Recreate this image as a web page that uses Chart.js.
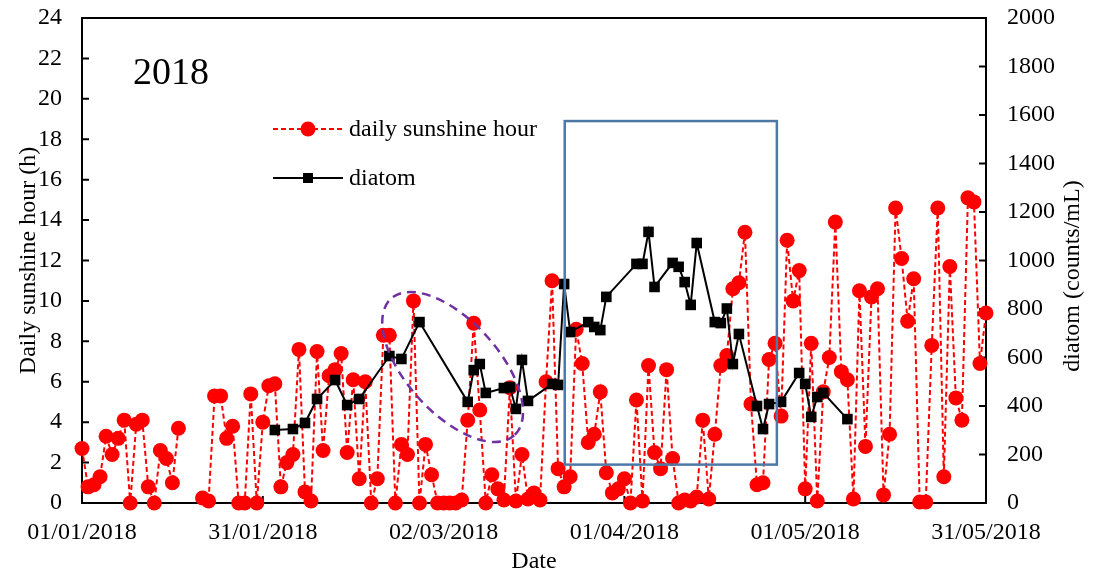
<!DOCTYPE html>
<html>
<head>
<meta charset="utf-8">
<title>Sunshine and diatom 2018</title>
<script src="https://cdn.jsdelivr.net/npm/chart.js@4.4.1/dist/chart.umd.min.js"></script>
<style>
  html, body { margin: 0; padding: 0; background: #fff; }
  #wrap { width: 1096px; height: 576px; position: relative; }
</style>
</head>
<body>
<div id="wrap"><canvas id="chart"></canvas></div>
<script>
const START = Date.UTC(2018, 0, 1);
const DAY_MS = 86400000;
const SERIF = '"Liberation Serif", "Times New Roman", serif';

// daily sunshine hours, one value per day starting 01/01/2018 (null = not recorded)
const sunshineHours = [
  2.7, 0.8, 0.9, 1.3, 3.3, 2.4, 3.2, 4.1, 0, 3.9,
  4.1, 0.8, 0, 2.6, 2.2, 1.0, 3.7, null, null, null,
  0.25, 0.1, 5.3, 5.3, 3.2, 3.8, 0, 0, 5.4, 0,
  4.0, 5.8, 5.9, 0.8, 2.0, 2.4, 7.6, 0.55, 0.1, 7.5,
  2.6, 6.3, 6.6, 7.4, 2.5, 6.1, 1.2, 6.0, 0, 1.2,
  8.3, 8.3, 0, 2.9, 2.4, 10.0, 0, 2.9, 1.4, 0,
  0, 0, 0, 0.15, 4.1, 8.9, 4.6, 0, 1.4, 0.7,
  0.15, 5.7, 0.1, 2.4, 0.2, 0.5, 0.15, 6.0, 11.0, 1.7,
  0.8, 1.3, 8.6, 6.9, 3.0, 3.4, 5.5, 1.5, 0.5, 0.7,
  1.2, 0, 5.1, 0.1, 6.8, 2.5, 1.7, 6.6, 2.2, 0,
  0.15, 0.1, 0.3, 4.1, 0.2, 3.4, 6.8, 7.3, 10.6, 10.9,
  13.4, 4.9, 0.9, 1.0, 7.1, 7.9, 4.3, 13.0, 10.0, 11.5,
  0.7, 7.9, 0.1, 5.5, 7.2, 13.9, 6.5, 6.1, 0.2, 10.5,
  2.8, 10.2, 10.6, 0.4, 3.4, 14.6, 12.1, 9.0, 11.1, 0.05,
  0.05, 7.8, 14.6, 1.3, 11.7, 5.2, 4.1, 15.1, 14.9, 6.9,
  9.4
];

// diatom samples: day offset from 01/01/2018 and count (counts/mL)
const diatomDays = [
  32, 35, 37, 39, 42, 44, 46, 51, 53, 56,
  64, 65, 66, 67, 70, 71, 72, 73, 74, 78,
  79, 80, 81, 84, 85, 86, 87, 92, 93, 94,
  95, 98, 99, 100, 101, 102, 105, 106, 107, 108,
  109, 112, 113, 114, 116, 119, 120, 121, 122, 123,
  127
];
const diatomCounts = [
  301, 305, 330, 429, 507, 404, 429, 606, 594, 746,
  417, 548, 573, 454, 474, 478, 388, 590, 421, 491,
  487, 903, 705, 746, 726, 713, 850, 986, 986, 1118,
  891, 990, 974, 911, 817, 1072, 746, 742, 802, 573,
  697, 400, 305, 408, 417, 536, 491, 355, 437, 454,
  346
];

// highlighted periods (day offset / sunshine hours)
const boxDays = [80.1, 115.3];
const boxHours = [1.9, 18.9];
const ellipseCentre = [61.5, 6.73];

function fmtDate(days) {
  const d = new Date(START + days * DAY_MS);
  const p = n => String(n).padStart(2, '0');
  return p(d.getUTCDate()) + '/' + p(d.getUTCMonth() + 1) + '/' + d.getUTCFullYear();
}

const font = { family: SERIF, size: 24 };

// vertical axes: fixed width, no extra room for the end labels
const fixWidth = w => s => { s.width = w; s.paddingTop = 0; s.paddingBottom = 0; };

// frame with inward tick marks, drawn under the data
const framePlugin = {
  id: 'frame',
  beforeDatasetsDraw(chart) {
    const { ctx, chartArea: a, scales } = chart;
    const len = 7;
    ctx.save();
    ctx.strokeStyle = '#000';
    ctx.lineWidth = 2;
    ctx.strokeRect(a.left, a.top, a.right - a.left, a.bottom - a.top);
    ctx.beginPath();
    scales.x.ticks.forEach(t => {
      const px = scales.x.getPixelForValue(t.value);
      ctx.moveTo(px, a.bottom); ctx.lineTo(px, a.bottom - len);
    });
    scales.y.ticks.forEach(t => {
      const py = scales.y.getPixelForValue(t.value);
      ctx.moveTo(a.left, py); ctx.lineTo(a.left + len, py);
    });
    scales.y1.ticks.forEach(t => {
      const py = scales.y1.getPixelForValue(t.value);
      ctx.moveTo(a.right, py); ctx.lineTo(a.right - len, py);
    });
    ctx.stroke();
    ctx.restore();
  },
  afterDatasetsDraw(chart) {
    const { ctx, scales } = chart;
    const x = scales.x, y = scales.y;
    ctx.save();
    // blue box round the spring peak
    const bx0 = x.getPixelForValue(boxDays[0]), bx1 = x.getPixelForValue(boxDays[1]);
    const by0 = y.getPixelForValue(boxHours[1]), by1 = y.getPixelForValue(boxHours[0]);
    ctx.strokeStyle = '#4e79a7';
    ctx.lineWidth = 2.5;
    ctx.strokeRect(bx0, by0, bx1 - bx0, by1 - by0);
    // dashed purple ellipse
    ctx.strokeStyle = '#7030a0';
    ctx.setLineDash([9, 6]);
    ctx.beginPath();
    ctx.ellipse(x.getPixelForValue(ellipseCentre[0]), y.getPixelForValue(ellipseCentre[1]),
      92, 46, 48 * Math.PI / 180, 0, 2 * Math.PI);
    ctx.stroke();
    ctx.restore();
  },
  afterDraw(chart) {
    const { ctx } = chart;
    ctx.save();
    ctx.fillStyle = '#000';
    ctx.font = '38px ' + SERIF;
    ctx.textBaseline = 'middle';
    ctx.fillText('2018', 133, 74);

    // legend
    ctx.font = '24px ' + SERIF;
    ctx.strokeStyle = '#ff0000';
    ctx.lineWidth = 2;
    ctx.setLineDash([5, 3]);
    ctx.beginPath(); ctx.moveTo(273, 129); ctx.lineTo(343, 129); ctx.stroke();
    ctx.setLineDash([]);
    ctx.fillStyle = '#ff0000';
    ctx.beginPath(); ctx.arc(308, 129, 7.5, 0, 2 * Math.PI); ctx.fill();
    ctx.strokeStyle = '#000';
    ctx.beginPath(); ctx.moveTo(273, 178); ctx.lineTo(343, 178); ctx.stroke();
    ctx.fillStyle = '#000';
    ctx.fillRect(303, 173, 10, 10);
    ctx.fillText('daily sunshine hour', 349, 130);
    ctx.fillText('diatom', 349, 179);

    // right axis title, reading upwards
    ctx.translate(1073, 276);
    ctx.rotate(-Math.PI / 2);
    ctx.textAlign = 'center';
    ctx.fillText('diatom (counts/mL)', 0, 0);
    ctx.restore();
  }
};

new Chart(document.getElementById('chart'), {
  type: 'line',
  data: {
    datasets: [
      {
        label: 'daily sunshine hour',
        data: sunshineHours.map((v, i) => ({ x: i, y: v })),
        yAxisID: 'y',
        borderColor: '#ff0000',
        borderWidth: 2,
        borderDash: [5, 3],
        pointStyle: 'circle',
        pointRadius: 7.5,
        pointBackgroundColor: '#ff0000',
        pointBorderColor: '#ff0000',
        pointBorderWidth: 0,
        spanGaps: false,
        tension: 0,
        clip: false,
        order: 2
      },
      {
        label: 'diatom',
        data: diatomDays.map((d, i) => ({ x: d, y: diatomCounts[i] })),
        yAxisID: 'y1',
        borderColor: '#000',
        borderWidth: 2,
        pointStyle: 'rect',
        pointRadius: 7.5,
        pointBackgroundColor: '#000',
        pointBorderColor: '#000',
        pointBorderWidth: 0,
        tension: 0,
        clip: false,
        order: 1
      }
    ]
  },
  options: {
    responsive: true,
    maintainAspectRatio: false,
    animation: false,
    layout: { padding: { top: 18, left: 0, right: 0, bottom: 0 } },
    plugins: { legend: { display: false }, tooltip: { enabled: false } },
    scales: {
      x: {
        type: 'linear',
        min: 0,
        max: 150,
        afterFit: s => { s.height = 73; s.paddingLeft = 0; s.paddingRight = 0; },
        grid: { display: false, drawTicks: false },
        border: { display: false },
        ticks: {
          stepSize: 30, padding: 15, maxRotation: 0, autoSkip: false,
          font, color: '#000', callback: v => fmtDate(v)
        },
        title: { display: true, text: 'Date', font, color: '#000', padding: 0 }
      },
      y: {
        position: 'left',
        min: 0,
        max: 24,
        afterFit: fixWidth(82),
        grid: { display: false, drawTicks: false },
        border: { display: false },
        ticks: { stepSize: 2, padding: 20, font, color: '#000' },
        title: {
          display: true, text: 'Daily sunshine hour (h)', font, color: '#000',
          padding: { top: 14, bottom: 0 }
        }
      },
      y1: {
        position: 'right',
        min: 0,
        max: 2000,
        afterFit: fixWidth(110),
        grid: { display: false, drawTicks: false },
        border: { display: false },
        ticks: { stepSize: 200, padding: 21, font, color: '#000', callback: v => String(v) }
      }
    }
  },
  plugins: [framePlugin]
});
</script>
</body>
</html>
